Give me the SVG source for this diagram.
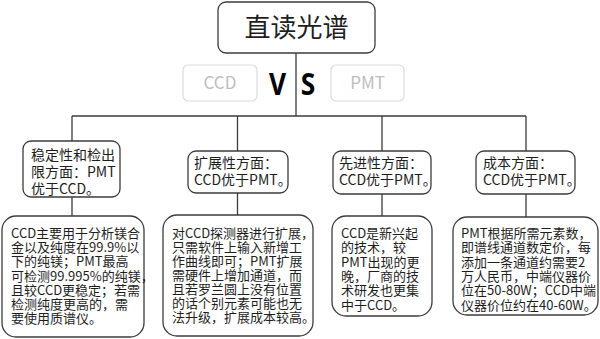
<svg xmlns="http://www.w3.org/2000/svg" width="600" height="339" viewBox="0 0 600 339">
<style>
.box{fill:#fff;stroke:#3c3c3c;stroke-width:1.3}
.ghost{fill:#fff;stroke:#dcdcdc;stroke-width:1.2}
.ln{stroke:#3c3c3c;stroke-width:1.3;fill:none}
.t{font-family:"Noto Sans CJK SC","Noto Sans",sans-serif;fill:#1e1e1e}
.mid{font-size:14px}
.sm{font-size:13px}
.g{font-family:"Noto Sans CJK SC","Noto Sans",sans-serif;fill:#bdbdbd;font-size:17px;text-anchor:middle}
.vs{font-family:"Open Sans","Noto Sans",sans-serif;font-size:31px;font-weight:700;fill:#000;text-anchor:middle}
</style>
<rect width="600" height="339" fill="#fff"/>
<g id="connectors">
<path class="ln" d="M296,53V116M72,116H526M72,116V141M237.5,116V151M382,116V151M526,116V151M72,197V216M237.5,193V215M382,194V216M526,194V217"/>
</g>
<g id="title">
<rect class="box" x="218" y="2" width="157" height="51" rx="8"/>
<text class="t" x="296.5" y="37" font-size="26" text-anchor="middle">直读光谱</text>
</g>
<g id="ccd">
<rect class="ghost" x="183" y="65" width="74" height="36" rx="5"/>
<text class="g" x="220" y="89">CCD</text>
</g>
<g id="pmt">
<rect class="ghost" x="331" y="65" width="73" height="36" rx="5"/>
<text class="g" x="367.5" y="89">PMT</text>
</g>
<g id="vs">
<text class="vs" x="277.5" y="95" transform="translate(277.5 0) scale(0.85 1) translate(-277.5 0)">V</text>
<text class="vs" x="308" y="95" transform="translate(308 0) scale(0.85 1) translate(-308 0)">S</text>
</g>
<g id="stability">
<rect class="box" x="23" y="141" width="97" height="56" rx="8"/>
<text class="t mid"><tspan x="31" y="160">稳定性和检出</tspan><tspan x="31" y="177">限方面：PMT</tspan><tspan x="31" y="194">优于CCD。</tspan></text>
</g>
<g id="expand">
<rect class="box" x="188" y="151" width="100" height="42" rx="8"/>
<text class="t mid"><tspan x="194" y="168">扩展性方面：</tspan><tspan x="194" y="185">CCD优于PMT。</tspan></text>
</g>
<g id="advanced">
<rect class="box" x="333" y="151" width="98" height="43" rx="8"/>
<text class="t mid"><tspan x="339" y="168">先进性方面：</tspan><tspan x="339" y="185">CCD优于PMT。</tspan></text>
</g>
<g id="cost">
<rect class="box" x="476" y="151" width="99" height="43" rx="8"/>
<text class="t mid"><tspan x="483" y="168">成本方面：</tspan><tspan x="483" y="185">CCD优于PMT。</tspan></text>
</g>
<g id="stability-detail">
<rect class="box" x="2" y="216" width="142" height="121" rx="14"/>
<text class="t sm"><tspan x="11" y="238">CCD主要用于分析镁合</tspan><tspan x="11" y="252.2">金以及纯度在99.9%以</tspan><tspan x="11" y="266.4">下的纯镁；PMT最高</tspan><tspan x="11" y="280.6">可检测99.995%的纯镁，</tspan><tspan x="11" y="294.8">且较CCD更稳定；若需</tspan><tspan x="11" y="309">检测纯度更高的，需</tspan><tspan x="11" y="323.2">要使用质谱仪。</tspan></text>
</g>
<g id="expand-detail">
<rect class="box" x="163" y="215" width="150" height="121" rx="14"/>
<text class="t sm"><tspan x="172" y="238">对CCD探测器进行扩展，</tspan><tspan x="172" y="252">只需软件上输入新增工</tspan><tspan x="172" y="266">作曲线即可；PMT扩展</tspan><tspan x="172" y="280">需硬件上增加通道，而</tspan><tspan x="172" y="294">且若罗兰圆上没有位置</tspan><tspan x="172" y="308">的话个别元素可能也无</tspan><tspan x="172" y="322">法升级，扩展成本较高。</tspan></text>
</g>
<g id="advanced-detail">
<rect class="box" x="332" y="216" width="100" height="100" rx="14"/>
<text class="t sm"><tspan x="341" y="238">CCD是新兴起</tspan><tspan x="341" y="252.3">的技术，较</tspan><tspan x="341" y="266.6">PMT出现的更</tspan><tspan x="341" y="280.9">晚，厂商的技</tspan><tspan x="341" y="295.2">术研发也更集</tspan><tspan x="341" y="309.5">中于CCD。</tspan></text>
</g>
<g id="cost-detail">
<rect class="box" x="453" y="217" width="145" height="98" rx="14"/>
<text class="t sm"><tspan x="461" y="238">PMT根据所需元素数，</tspan><tspan x="461" y="252.3">即谱线通道数定价，每</tspan><tspan x="461" y="266.6">添加一条通道约需要2</tspan><tspan x="461" y="280.9">万人民币，中端仪器价</tspan><tspan x="461" y="295.2">位在50-80W；CCD中端</tspan><tspan x="461" y="309.5">仪器价位约在40-60W。</tspan></text>
</g>
</svg>
